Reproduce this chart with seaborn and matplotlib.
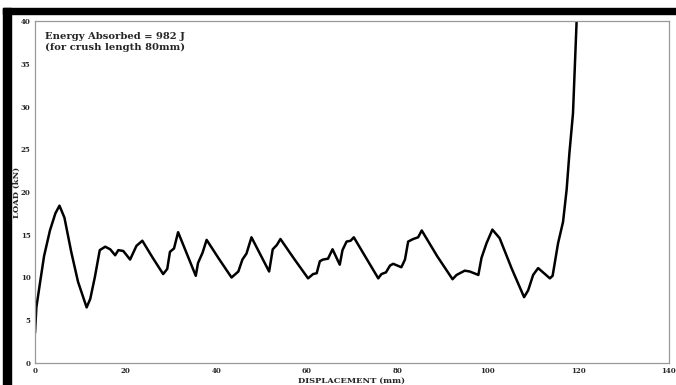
import matplotlib
matplotlib.use("Agg")
import matplotlib.pyplot as plt
import matplotlib.patches as mpatches
import seaborn as sns
import pandas as pd

# Du lieu doc tu hinh (displacement mm, load kN)
displacement = [0.0, 0.3, 1.0, 2.0, 3.3, 4.5, 5.4, 6.5, 8.0, 9.5, 11.4, 12.2, 13.2, 14.3, 15.5,
                16.6, 17.7, 18.4, 19.5, 21.0, 22.4, 23.7, 26.0, 28.3, 29.2, 29.8, 30.7, 31.6,
                34.2, 35.5, 36.0, 37.0, 37.9, 40.6, 43.4, 44.9, 45.8, 46.7, 47.8, 51.7, 52.5,
                53.4, 54.2, 57.2, 60.3, 61.4, 62.2, 62.9, 63.6, 64.7, 65.7, 67.3, 67.9, 68.8,
                69.7, 70.4, 73.1, 75.8, 76.5, 77.5, 78.4, 79.1, 80.9, 81.7, 82.4, 83.5, 84.6,
                85.4, 88.8, 92.2, 93.1, 94.9, 96.0, 97.9, 98.6, 99.7, 101.0, 102.6, 105.3,
                108.0, 108.9, 110.0, 111.1, 113.7, 114.3, 115.5, 116.6, 117.4, 118.0, 118.8,
                119.6, 119.8]
load = [3.5, 6.5, 9.0, 12.5, 15.5, 17.5, 18.4, 17.0, 13.0, 9.5, 6.5, 7.5, 10.0, 13.2, 13.6,
        13.3, 12.6, 13.2, 13.1, 12.1, 13.7, 14.3, 12.3, 10.4, 11.0, 13.0, 13.4, 15.3,
        11.9, 10.2, 11.7, 12.9, 14.4, 12.2, 10.0, 10.7, 12.1, 12.8, 14.7, 10.7, 13.3,
        13.8, 14.5, 12.2, 9.9, 10.4, 10.5, 11.9, 12.1, 12.2, 13.3, 11.5, 13.2, 14.2,
        14.3, 14.7, 12.3, 9.9, 10.4, 10.6, 11.4, 11.6, 11.2, 12.1, 14.2, 14.5, 14.7,
        15.5, 12.5, 9.8, 10.3, 10.8, 10.7, 10.3, 12.3, 14.0, 15.6, 14.6, 11.0,
        7.7, 8.5, 10.3, 11.1, 9.9, 10.2, 14.0, 16.5, 20.3, 24.5, 29.2,
        40.0, 42.0]
x_ticks = [0, 20, 40, 60, 80, 100, 120, 140]
y_ticks = [0, 5, 10, 15, 20, 25, 30, 35, 40]

df = pd.DataFrame({'disp': displacement, 'load': load})

sns.set_style("white")
plt.rcParams['font.family'] = ['DejaVu Serif']
plt.rcParams['font.weight'] = 'bold'

fig = plt.figure(figsize=(6.76, 3.85), dpi=100)
ax = fig.add_axes([35 / 676, 1 - 363 / 385, (669 - 35) / 676, (363 - 21) / 385])

sns.lineplot(data=df, x='disp', y='load', ax=ax, color='black', linewidth=1.8, sort=False)

ax.set_xlim(0, 140)
ax.set_ylim(0, 40)
ax.set_xticks(x_ticks)
ax.set_yticks(y_ticks)
ax.tick_params(axis='both', labelsize=5, length=2, width=0.6, color='#888888', pad=1.2)
for lab in ax.get_xticklabels() + ax.get_yticklabels():
    lab.set_fontweight('bold')

for side in ['top', 'right', 'bottom', 'left']:
    ax.spines[side].set_color('#999999')
    ax.spines[side].set_linewidth(0.9)

ax.set_xlabel('DISPLACEMENT (mm)', fontsize=6, fontweight='bold', labelpad=1)
ax.set_ylabel('LOAD (kN)', fontsize=6, fontweight='bold')
ax.yaxis.set_label_coords(-0.023, 0.5)

ax.text(2.2, 38.7, 'Energy Absorbed = 982 J\n(for crush length 80mm)', fontsize=7.2,
        fontweight='bold', va='top', ha='left', linespacing=1.25)

# Khung den ben trai va phia tren
fig.patches.append(mpatches.Rectangle((3 / 676, 0), 8 / 676, 1 - 8 / 385,
                                      transform=fig.transFigure, color='black', zorder=5))
fig.patches.append(mpatches.Rectangle((3 / 676, 1 - 13.5 / 385), 1, 5.5 / 385,
                                      transform=fig.transFigure, color='black', zorder=5))

fig.savefig('out.png', dpi=100)
